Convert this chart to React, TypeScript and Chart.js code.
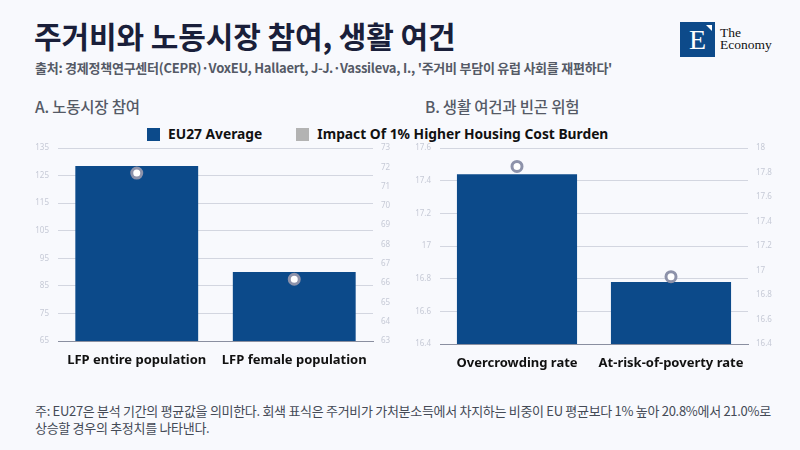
import React, { useEffect, useRef } from "react";
import { Chart, registerables } from "chart.js";

Chart.register(...registerables);

const labelsA = ["LFP entire population", "LFP female population"];
const avgA = [128.5, 90.0];
const impactA = [71.7, 66.2];

const labelsB = ["Overcrowding rate", "At-risk-of-poverty rate"];
const avgB = [17.44, 16.78];
const impactB = [17.85, 16.95];

const legendLabels = ["EU27 Average", "Impact Of 1% Higher Housing Cost Burden"];

const BLUE = "#0c4a8a";
const GRAY_RING = "#8d92aa";
const TICK = "#c6cad6";
const FONT = "'Noto Sans', 'Noto Sans CJK KR', sans-serif";
const KFONT = "'Noto Sans CJK KR', 'Noto Sans', sans-serif";

interface Cfg {
  labels: string[];
  avg: number[];
  impact: number[];
  yMin: number;
  yMax: number;
  yStep: number;
  y1Min: number;
  y1Max: number;
  y1Step: number;
  yW: number;
  y1W: number;
  xH: number;
}

const fmt = (v: any) => String(Number(Number(v).toFixed(2)));

function BarChart(props: Cfg) {
  const ref = useRef<HTMLCanvasElement | null>(null);
  useEffect(() => {
    if (!ref.current) return;
    const chart = new Chart(ref.current, {
      type: "bar",
      data: {
        labels: props.labels,
        datasets: [
          {
            type: "line",
            label: legendLabels[1],
            data: props.impact,
            yAxisID: "y1",
            showLine: false,
            pointRadius: 5,
            pointBorderWidth: 3,
            pointBackgroundColor: "#ffffff",
            pointBorderColor: GRAY_RING,
            borderColor: GRAY_RING,
            order: 0,
          } as any,
          {
            type: "bar",
            label: legendLabels[0],
            data: props.avg,
            yAxisID: "y",
            backgroundColor: BLUE,
            barPercentage: 0.78,
            categoryPercentage: 1,
            order: 1,
          },
        ],
      },
      options: {
        animation: false,
        responsive: true,
        maintainAspectRatio: false,
        layout: { padding: { top: 2, bottom: 0, left: 0, right: 0 } },
        plugins: { legend: { display: false }, tooltip: { enabled: false } },
        scales: {
          x: {
            grid: { display: false },
            border: { display: true, color: "#8a8fa0", width: 1 },
            ticks: {
              color: "#111111",
              font: { family: FONT, size: 13, weight: "bold" },
              padding: 3,
            },
            afterFit: (s: any) => {
              s.height = props.xH;
            },
          },
          y: {
            position: "left",
            min: props.yMin,
            max: props.yMax,
            ticks: {
              stepSize: props.yStep,
              color: TICK,
              font: { family: FONT, size: 8 },
              padding: 0,
              callback: fmt,
            },
            grid: { color: "#d3d6e0", drawTicks: true, tickLength: 9, tickColor: "rgba(0,0,0,0)" },
            border: { display: false },
            afterFit: (s: any) => {
              s.width = props.yW;
            },
          },
          y1: {
            position: "right",
            min: props.y1Min,
            max: props.y1Max,
            ticks: {
              stepSize: props.y1Step,
              color: TICK,
              font: { family: FONT, size: 8 },
              padding: 0,
              callback: fmt,
            },
            grid: { display: false, drawTicks: true, tickLength: 8, tickColor: "rgba(0,0,0,0)" },
            border: { display: false },
            afterFit: (s: any) => {
              s.width = props.y1W;
            },
          },
        },
      } as any,
    });
    return () => chart.destroy();
  }, []);
  return <canvas ref={ref} />;
}

export default function App() {
  return (
    <div
      style={{
        position: "fixed",
        left: 0,
        top: 0,
        width: 800,
        height: 450,
        background: "#f8f9fd",
        overflow: "hidden",
        fontFamily: KFONT,
      }}
    >
      <div
        style={{
          position: "absolute",
          left: 34,
          top: 15,
          fontSize: 30,
          fontWeight: 700,
          color: "#1a1f3a",
          letterSpacing: -0.1,
          lineHeight: "40px",
        }}
      >
        주거비와 노동시장 참여, 생활 여건
      </div>
      <div
        style={{
          position: "absolute",
          left: 35,
          top: 59,
          fontSize: 13,
          fontWeight: 700,
          color: "#555a66",
          letterSpacing: -0.25,
          lineHeight: "18px",
        }}
      >
        출처: 경제정책연구센터(CEPR)·VoxEU, Hallaert, J-J.·Vassileva, I., '주거비 부담이 유럽 사회를 재편하다'
      </div>
      {/* logo */}
      <div
        style={{
          position: "absolute",
          left: 680,
          top: 22,
          width: 35,
          height: 35,
          background: "#0d4a8a",
          color: "#fff",
          fontFamily: "'Liberation Serif', 'DejaVu Serif', serif",
          fontSize: 28,
          lineHeight: "35px",
          textAlign: "center",
        }}
      >
        E
        <div
          style={{
            position: "absolute",
            right: 3,
            top: 3,
            width: 0,
            height: 0,
            borderLeft: "6px solid transparent",
            borderTop: "6px solid #ffffff",
          }}
        />
      </div>
      <div
        style={{
          position: "absolute",
          left: 720,
          top: 27,
          fontFamily: "'Liberation Serif', 'DejaVu Serif', serif",
          fontSize: 13.5,
          lineHeight: "12px",
          color: "#111",
        }}
      >
        The
        <br />
        Economy
      </div>
      {/* section titles */}
      <div
        style={{
          position: "absolute",
          left: 35,
          top: 96,
          fontSize: 15.5,
          fontWeight: 500,
          color: "#555a66",
          lineHeight: "20px",
          letterSpacing: -0.2,
        }}
      >
        A. 노동시장 참여
      </div>
      <div
        style={{
          position: "absolute",
          left: 425,
          top: 96,
          fontSize: 15.5,
          fontWeight: 500,
          color: "#555a66",
          lineHeight: "20px",
          letterSpacing: -0.2,
        }}
      >
        B. 생활 여건과 빈곤 위험
      </div>
      {/* legend */}
      <div
        style={{
          position: "absolute",
          left: 147,
          top: 126,
          display: "flex",
          alignItems: "center",
          fontFamily: FONT,
          fontSize: 13.8,
          fontWeight: 700,
          color: "#111",
          lineHeight: "16px",
        }}
      >
        <span style={{ width: 13, height: 13, background: BLUE, display: "inline-block", marginRight: 8 }} />
        <span style={{ marginRight: 34 }}>{legendLabels[0]}</span>
        <span style={{ width: 13, height: 13, background: "#b3b3b3", display: "inline-block", marginRight: 8 }} />
        <span>{legendLabels[1]}</span>
      </div>
      {/* charts */}
      <div style={{ position: "absolute", left: 20, top: 140, width: 380, height: 232 }}>
        <BarChart
          labels={labelsA}
          avg={avgA}
          impact={impactA}
          yMin={65}
          yMax={135}
          yStep={10}
          y1Min={63}
          y1Max={73}
          y1Step={1}
          yW={38}
          y1W={27}
          xH={31}
        />
      </div>
      <div style={{ position: "absolute", left: 400, top: 140, width: 378, height: 232 }}>
        <BarChart
          labels={labelsB}
          avg={avgB}
          impact={impactB}
          yMin={16.4}
          yMax={17.6}
          yStep={0.2}
          y1Min={16.4}
          y1Max={18}
          y1Step={0.2}
          yW={40}
          y1W={30}
          xH={28}
        />
      </div>
      {/* footnote */}
      <div
        style={{
          position: "absolute",
          left: 35,
          top: 402,
          width: 770,
          fontSize: 13,
          color: "#444a56",
          lineHeight: "17px",
          letterSpacing: -0.3,
        }}
      >
        주: EU27은 분석 기간의 평균값을 의미한다. 회색 표식은 주거비가 가처분소득에서 차지하는 비중이 EU 평균보다 1% 높아 20.8%에서 21.0%로
        <br />
        상승할 경우의 추정치를 나타낸다.
      </div>
    </div>
  );
}
